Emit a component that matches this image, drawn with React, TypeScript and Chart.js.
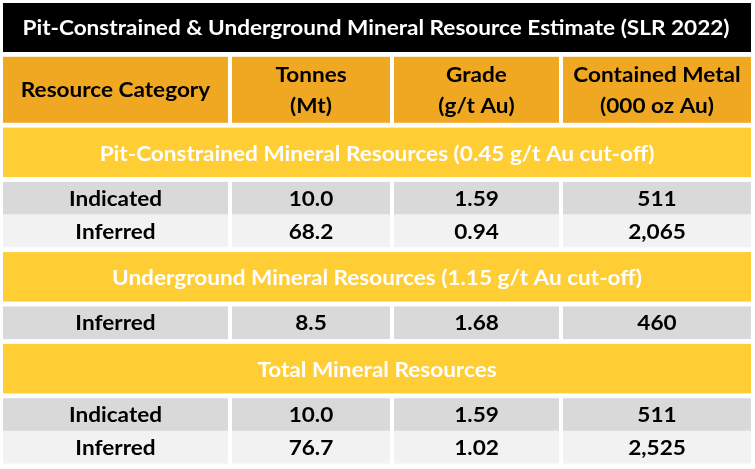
import { useEffect, useRef } from "react";
import { Chart, registerables } from "chart.js";

Chart.register(...registerables);

// ---------- data ----------
const TITLE = "Pit-Constrained & Underground Mineral Resource Estimate (SLR 2022)";
const headerTop = ["Resource Category", "Tonnes", "Grade", "Contained Metal"];
const headerBottom = ["", "(Mt)", "(g/t Au)", "(000 oz Au)"];
const sections = [
  "Pit-Constrained Mineral Resources (0.45 g/t Au cut-off)",
  "Underground Mineral Resources (1.15 g/t Au cut-off)",
  "Total Mineral Resources",
];
const pitCategories = ["Indicated", "Inferred"];
const pitTonnes = [10.0, 68.2];
const pitGrade = [1.59, 0.94];
const pitMetal = [511, 2065];
const ugCategories = ["Inferred"];
const ugTonnes = [8.5];
const ugGrade = [1.68];
const ugMetal = [460];
const totalCategories = ["Indicated", "Inferred"];
const totalTonnes = [10.0, 76.7];
const totalGrade = [1.59, 1.02];
const totalMetal = [511, 2525];

// ---------- styling / layout ----------
const FONT = "Lato, 'Open Sans', sans-serif";
const TEXT_STRETCH = 1.075;
const COLORS = {
  title: "#000000",
  header: "#F0A823",
  section: "#FFCD34",
  dark: "#D9D9D9",
  light: "#F2F2F2",
};
const LAYOUT = {
  cols: [
    [3, 228],
    [232, 390],
    [394, 559],
    [563, 751],
  ],
  left: 3,
  right: 751,
  top: 3,
  titleH: 49,
  headerH: 66,
  sectionH: 49.5,
  dataH: 32.7,
  gap: 4.8,
};

type Row =
  | { kind: "title" }
  | { kind: "header" }
  | { kind: "section"; text: string }
  | { kind: "data"; cells: string[]; shade: string };

const fmtMetal = (v: number) => v.toLocaleString("en-US");

function buildRows(): Row[] {
  const rows: Row[] = [{ kind: "title" }, { kind: "header" }];
  const groups = [
    [pitCategories, pitTonnes, pitGrade, pitMetal],
    [ugCategories, ugTonnes, ugGrade, ugMetal],
    [totalCategories, totalTonnes, totalGrade, totalMetal],
  ] as [string[], number[], number[], number[]][];
  groups.forEach(([cats, t, g, m], gi) => {
    rows.push({ kind: "section", text: sections[gi] });
    cats.forEach((c, i) => {
      rows.push({
        kind: "data",
        cells: [c, t[i].toFixed(1), g[i].toFixed(2), fmtMetal(m[i])],
        shade: i % 2 === 0 ? COLORS.dark : COLORS.light,
      });
    });
  });
  return rows;
}

const tablePlugin = {
  id: "tablePlugin",
  afterDraw(chart: any) {
    const ctx: CanvasRenderingContext2D = chart.ctx;
    const xs = chart.scales.x;
    const ys = chart.scales.y;
    const px = (v: number) => xs.getPixelForValue(v);
    const py = (v: number) => ys.getPixelForValue(v);
    const rect = (x0: number, x1: number, y0: number, y1: number, color: string) => {
      ctx.fillStyle = color;
      const a = px(x0), b = px(x1), c = py(y0), d = py(y1);
      ctx.fillRect(a, c, b - a, d - c);
    };
    const text = (s: string, x: number, yMid: number, size: number, color: string) => {
      ctx.save();
      ctx.font = `bold ${size}px ${FONT}`;
      ctx.fillStyle = color;
      ctx.textAlign = "center";
      ctx.textBaseline = "alphabetic";
      const cx = px(x);
      const cy = py(yMid) + size * 0.36;
      ctx.translate(cx, cy);
      ctx.scale(TEXT_STRETCH, 1);
      ctx.fillText(s, 0, 0);
      ctx.restore();
    };

    const rows = buildRows();
    const L = LAYOUT;
    let y = L.top;
    let prevKind = "";
    rows.forEach((row) => {
      if (prevKind && !(prevKind === "data" && row.kind === "data")) y += L.gap;
      if (row.kind === "title") {
        const h = L.titleH;
        rect(L.left, L.right, y, y + h, COLORS.title);
        text(TITLE, (L.left + L.right) / 2 - 1, y + h / 2, 21, "#FFFFFF");
        y += h;
      } else if (row.kind === "header") {
        const h = L.headerH;
        L.cols.forEach(([a, b], i) => {
          rect(a, b, y, y + h, COLORS.header);
          const cx = (a + b) / 2;
          if (headerBottom[i]) {
            text(headerTop[i], cx, y + h / 2 - 15.5, 21, "#000000");
            text(headerBottom[i], cx, y + h / 2 + 15.5, 21, "#000000");
          } else {
            text(headerTop[i], cx, y + h / 2, 21, "#000000");
          }
        });
        y += h;
      } else if (row.kind === "section") {
        const h = L.sectionH;
        rect(L.left, L.right, y, y + h, COLORS.section);
        text(row.text, (L.left + L.right) / 2, y + h / 2 + 1, 21, "#FFFFFF");
        y += h;
      } else {
        const h = L.dataH;
        L.cols.forEach(([a, b], i) => {
          rect(a, b, y, y + h, row.shade);
          text(row.cells[i], (a + b) / 2, y + h / 2, 21, "#000000");
        });
        y += h;
      }
      prevKind = row.kind;
    });
  },
};

export default function App() {
  const ref = useRef<HTMLCanvasElement>(null);
  useEffect(() => {
    document.body.style.margin = "0";
    const chart = new Chart(ref.current as HTMLCanvasElement, {
      type: "scatter",
      data: { datasets: [] },
      options: {
        animation: false,
        responsive: false,
        maintainAspectRatio: false,
        events: [],
        layout: { padding: 0 },
        plugins: { legend: { display: false }, tooltip: { enabled: false } },
        scales: {
          x: { type: "linear", min: 0, max: 755, display: false },
          y: { type: "linear", min: 0, max: 469, reverse: true, display: false },
        },
      },
      plugins: [tablePlugin],
    });
    return () => chart.destroy();
  }, []);
  return (
    <div style={{ width: 755, height: 469 }}>
      <canvas ref={ref} width={755} height={469} style={{ display: "block" }} />
    </div>
  );
}
